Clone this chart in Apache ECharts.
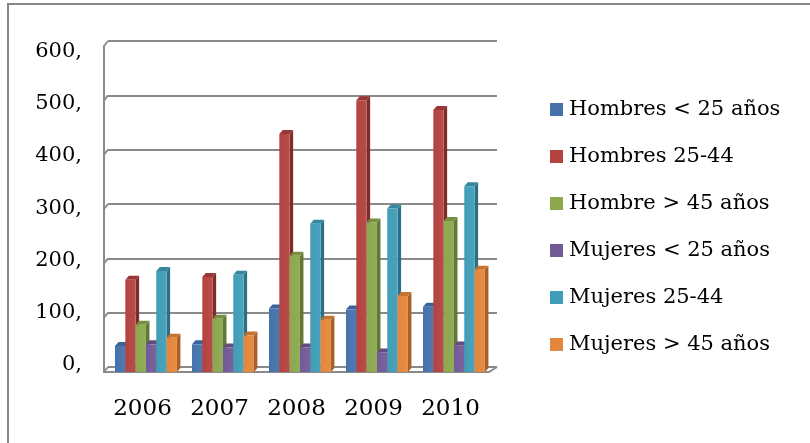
<!DOCTYPE html>
<html>
<head>
<meta charset="utf-8">
<script src="https://cdn.jsdelivr.net/npm/echarts@6/dist/echarts.min.js"></script>
<style>
  html, body { margin: 0; padding: 0; background: #fff; }
  #chart { width: 810px; height: 443px; }
</style>
</head>
<body>
<div id="chart"></div>
<script>
// datos
var categories = ['2006', '2007', '2008', '2009', '2010'];
var hombresMenos25 = [48, 51, 117, 115, 120];
var hombres2544 = [170, 175, 438, 500, 482];
var hombreMas45 = [87, 98, 214, 275, 278];
var mujeresMenos25 = [51, 45, 45, 36, 49];
var mujeres2544 = [186, 179, 273, 301, 342];
var mujeresMas45 = [63, 67, 96, 140, 188];
var yTicks = [0, 100, 200, 300, 400, 500, 600];

var seriesNames = ['Hombres < 25 años', 'Hombres 25-44', 'Hombre > 45 años',
                   'Mujeres < 25 años', 'Mujeres 25-44', 'Mujeres > 45 años'];
var seriesValues = [hombresMenos25, hombres2544, hombreMas45, mujeresMenos25, mujeres2544, mujeresMas45];
var frontColors = ['#4572ab', '#b3423f', '#8ba84e', '#725a97', '#409db7', '#e4863b'];
var sideColors = ['#2f5283', '#7e2c2a', '#617836', '#50406c', '#2b7086', '#a9602a'];
var topColors = ['#3a6399', '#9a3734', '#768f41', '#614d82', '#35879e', '#c7742f'];

var serif = 'DejaVu Serif';
var gray = '#8a8a8a';

function barRenderer(s) {
  return function (params, api) {
    var idx = api.value(0);
    var v = api.value(1);
    var base = api.coord([idx, 0]);
    var tp = api.coord([idx, v]);
    var cw = api.size([1, 0])[0];
    var w = cw * 0.134;
    var x0 = base[0] - 3 * w + s * w + cw * 0.045;
    var y0 = base[1], y1 = tp[1];
    var dx = 3.5, dy = 4;
    return {
      type: 'group',
      children: [
        { type: 'polygon', shape: { points: [[x0 + w, y1], [x0 + w + dx, y1 - dy], [x0 + w + dx, y0 - dy], [x0 + w, y0]] },
          style: { fill: sideColors[s] } },
        { type: 'polygon', shape: { points: [[x0, y1], [x0 + dx, y1 - dy], [x0 + w + dx, y1 - dy], [x0 + w, y1]] },
          style: { fill: topColors[s] } },
        { type: 'rect', shape: { x: x0, y: y1, width: w, height: y0 - y1 },
          style: { fill: new echarts.graphic.LinearGradient(0, 0, 1, 0, [
            { offset: 0, color: frontColors[s] }, { offset: 1, color: echarts.color.lift(frontColors[s], 0.06) }]) } }
      ]
    };
  };
}

// lineas diagonales entre pared frontal y fondo
function frameRenderer(params, api) {
  var v = api.value(0);
  var p = api.coord([0, v]);
  var cw = api.size([1, 0])[0];
  var left = p[0] - cw / 2;
  var children = [
    { type: 'line', shape: { x1: left, y1: p[1], x2: left + 4, y2: p[1] - 5 },
      style: { stroke: gray, lineWidth: 2 } }
  ];
  if (v === 0) {
    var right = left + cw * categories.length;
    children.push({ type: 'line', shape: { x1: right, y1: p[1], x2: right + 8, y2: p[1] - 5 },
      style: { stroke: gray, lineWidth: 2 } });
  }
  return { type: 'group', children: children };
}

var series = seriesNames.map(function (name, s) {
  return {
    name: name,
    type: 'custom',
    xAxisIndex: 0,
    yAxisIndex: 0,
    z: 3,
    itemStyle: { color: frontColors[s] },
    renderItem: barRenderer(s),
    encode: { x: 0, y: 1 },
    data: seriesValues[s].map(function (v, i) { return [i, v]; })
  };
});

series.push({
  name: 'marco',
  type: 'custom',
  xAxisIndex: 0,
  yAxisIndex: 0,
  z: 1,
  silent: true,
  renderItem: frameRenderer,
  encode: { y: 0 },
  data: yTicks.map(function (v) { return [v]; })
});

var chart = echarts.init(document.getElementById('chart'));
chart.setOption({
  animation: false,
  backgroundColor: '#fff',
  graphic: [{
    type: 'rect',
    shape: { x: 8, y: 4, width: 900, height: 600 },
    style: { fill: 'none', stroke: '#868686', lineWidth: 2 },
    z: 0
  }],
  legend: {
    data: seriesNames,
    orient: 'vertical',
    left: 545,
    top: 94,
    icon: 'rect',
    itemWidth: 13,
    itemHeight: 13,
    itemGap: 26,
    textStyle: { fontFamily: serif, fontSize: 21, color: '#000', lineHeight: 20, padding: [0, 0, 0, 1] }
  },
  grid: [
    { left: 104, right: 321, top: 46, bottom: 71 },   // frente (barras)
    { left: 108, right: 313, top: 41, bottom: 76 },   // pared de fondo
    { left: 103, right: 321, top: 51.5, bottom: 78 }  // etiquetas del eje y
  ],
  xAxis: [
    { type: 'category', gridIndex: 0, data: categories,
      axisLine: { lineStyle: { color: gray, width: 2 } },
      axisTick: { length: 11, lineStyle: { color: gray, width: 2 } },
      axisLabel: { fontFamily: serif, fontSize: 23, color: '#000', margin: 26 } },
    { type: 'category', gridIndex: 1, data: categories, show: false },
    { type: 'category', gridIndex: 2, data: categories, show: false }
  ],
  yAxis: [
    { type: 'value', gridIndex: 0, min: 0, max: 600, interval: 100,
      axisLine: { show: true, lineStyle: { color: gray, width: 2 } },
      axisTick: { show: false }, axisLabel: { show: false }, splitLine: { show: false } },
    { type: 'value', gridIndex: 1, min: 0, max: 600, interval: 100,
      axisLine: { show: false }, axisTick: { show: false }, axisLabel: { show: false },
      splitLine: { show: true, lineStyle: { color: gray, width: 2 } } },
    { type: 'value', gridIndex: 2, min: 0, max: 600, interval: 100,
      axisLine: { show: false }, axisTick: { show: false }, splitLine: { show: false },
      axisLabel: { fontFamily: serif, fontSize: 21, color: '#000', margin: 21,
        formatter: function (v) { return v + ','; } } }
  ],
  series: series
});
</script>
</body>
</html>
